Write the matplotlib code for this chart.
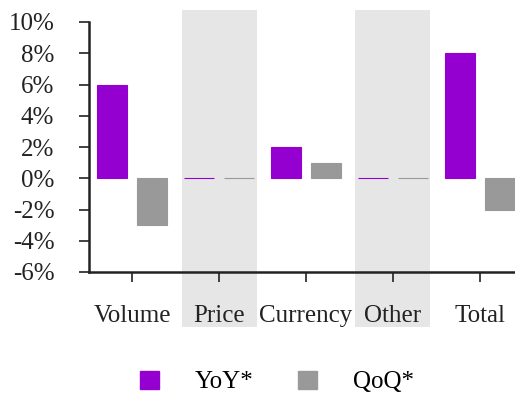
import matplotlib.pyplot as plt
from matplotlib.patches import Patch
import numpy as np

categories = ['Volume', 'Price', 'Currency', 'Other', 'Total']
yoy = [6, 0, 2, 0, 8]
qoq = [-3, 0, 1, 0, -2]
shaded = ['Price', 'Other']

purple = '#9400D0'
grey = '#999999'

plt.rcParams['font.family'] = ['Liberation Serif', 'DejaVu Serif']

fig = plt.figure(figsize=(5.15, 3.96), dpi=100)
ax = fig.add_axes([89 / 515, 124 / 396, 434 / 515, 250 / 396])

x = np.arange(len(categories))
width = 0.345
offset = 0.23

# light background bands behind every other category
for name in shaded:
    i = categories.index(name)
    ax.axvspan(i - 0.43, i + 0.43, ymin=-0.22, ymax=1.048, color='#e6e6e6',
               zorder=0, clip_on=False, lw=0)

ax.bar(x - offset, yoy, width, color=purple, edgecolor=purple, lw=0.8, zorder=2)
ax.bar(x + offset, qoq, width, color=grey, edgecolor=grey, lw=0.8, zorder=2)

ax.set_xlim(-0.5, 4.5)
ax.set_ylim(-6, 10)
ax.set_yticks(range(-6, 11, 2))
ax.set_yticklabels([f'{v}%' for v in range(-6, 11, 2)])
ax.set_xticks(x)
ax.set_xticklabels(categories)

ax.patch.set_visible(False)
for side in ['top', 'right']:
    ax.spines[side].set_visible(False)
for side in ['left', 'bottom']:
    ax.spines[side].set_linewidth(1.8)
    ax.spines[side].set_color('#222222')

ax.tick_params(axis='y', length=7, width=1.2, pad=18, labelsize=18, colors='#222222')
ax.tick_params(axis='x', length=7, width=1.2, pad=17, labelsize=18, colors='#222222')

handles = [Patch(color=purple, label='YoY*'), Patch(color=grey, label='QoQ*')]
fig.legend(handles=handles, loc='center', bbox_to_anchor=(277 / 515, 1 - 382 / 396),
           ncol=2, frameon=False, fontsize=18, handlelength=0.76, handleheight=0.76,
           handletextpad=1.44, columnspacing=1.8)

fig.savefig('out.png', dpi=100)
